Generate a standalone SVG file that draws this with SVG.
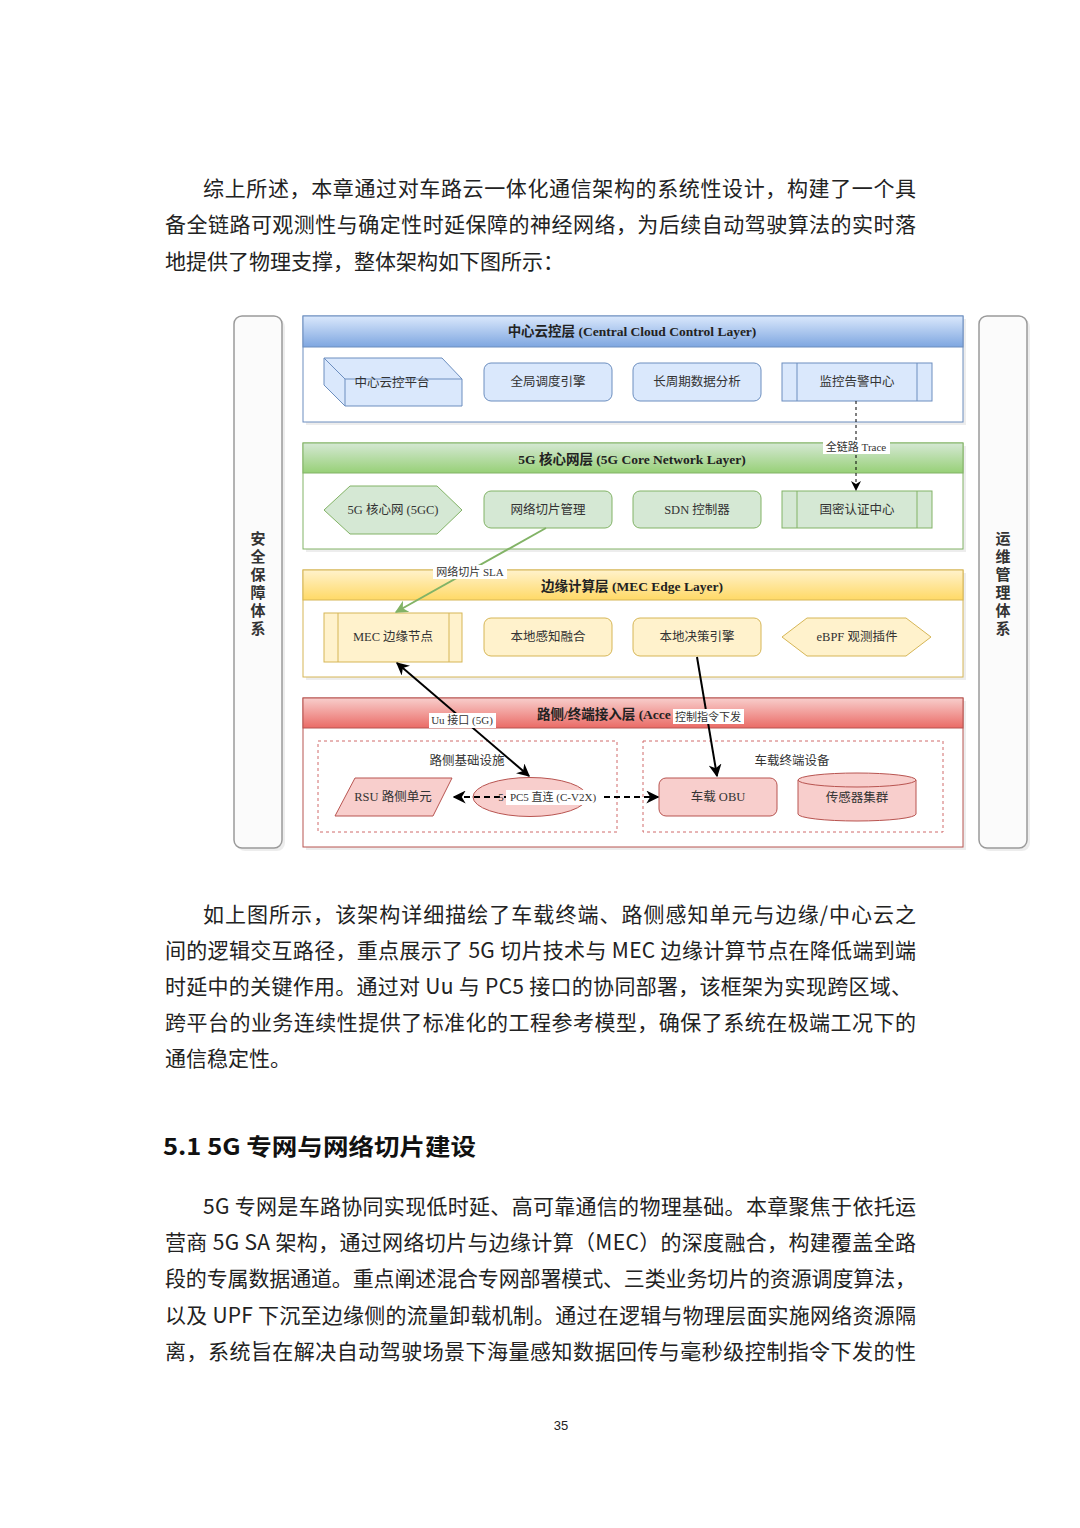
<svg xmlns="http://www.w3.org/2000/svg" width="1080" height="1528" viewBox="0 0 1080 1528">
<style>
.body{font-family:"Noto Sans CJK SC","Liberation Serif",sans-serif;font-size:21px;fill:#222;}
.h1{font-family:"Noto Sans CJK SC",sans-serif;font-size:23px;font-weight:bold;fill:#111;}
.pn{font-family:"Liberation Sans",sans-serif;font-size:13px;fill:#222;text-anchor:middle;}
.nt{font-family:"Liberation Serif","Noto Sans CJK SC",serif;font-size:12.5px;fill:#333;text-anchor:middle;dominant-baseline:central;}
.lt{font-family:"Liberation Serif","Noto Sans CJK SC",serif;font-size:13.5px;font-weight:bold;fill:#222;text-anchor:middle;dominant-baseline:central;}
.el{font-family:"Liberation Serif","Noto Sans CJK SC",serif;font-size:11px;fill:#333;text-anchor:middle;dominant-baseline:central;}
.st{font-family:"Noto Sans CJK SC",sans-serif;font-size:15px;font-weight:bold;fill:#333;text-anchor:middle;dominant-baseline:central;}
.side{fill:#fbfbfb;stroke:#9a9a9a;stroke-width:1.5;}
.shadow{fill:#000;opacity:0.07;}
.bN{fill:#dae8fc;stroke:#6c8ebf;stroke-width:1;}
.gN{fill:#d5e8d4;stroke:#82b366;stroke-width:1;}
.yN{fill:#fff2cc;stroke:#d6b656;stroke-width:1;}
.rN{fill:#f8cecc;stroke:#b85450;stroke-width:1;}
.grp{fill:none;stroke:#d06a6a;stroke-width:1;stroke-dasharray:3 3;}
.lbg{fill:#fff;}
</style>
<defs>
<linearGradient id="gB" x1="0" y1="0" x2="0" y2="1"><stop offset="0" stop-color="#dae8fc"/><stop offset="1" stop-color="#7ea6e0"/></linearGradient>
<linearGradient id="gG" x1="0" y1="0" x2="0" y2="1"><stop offset="0" stop-color="#d5e8d4"/><stop offset="1" stop-color="#97d077"/></linearGradient>
<linearGradient id="gY" x1="0" y1="0" x2="0" y2="1"><stop offset="0" stop-color="#fff2cc"/><stop offset="1" stop-color="#ffd966"/></linearGradient>
<linearGradient id="gR" x1="0" y1="0" x2="0" y2="1"><stop offset="0" stop-color="#f8cecc"/><stop offset="1" stop-color="#ea6b66"/></linearGradient>
<marker id="ak" viewBox="0 0 10 10" refX="9" refY="5" markerUnits="userSpaceOnUse" markerWidth="13" markerHeight="13" orient="auto-start-reverse"><path d="M0,0 L10,5 L0,10 L3,5 z" fill="#000"/></marker>
<marker id="ag" viewBox="0 0 10 10" refX="9" refY="5" markerUnits="userSpaceOnUse" markerWidth="13" markerHeight="13" orient="auto-start-reverse"><path d="M0,0 L10,5 L0,10 L3,5 z" fill="#82b366"/></marker>
<marker id="as" viewBox="0 0 10 10" refX="9" refY="5" markerUnits="userSpaceOnUse" markerWidth="10" markerHeight="10" orient="auto-start-reverse"><path d="M0,0 L10,5 L0,10 L3,5 z" fill="#000"/></marker>
</defs>
<rect width="1080" height="1528" fill="#fff"/>

<!-- Paragraph 1 -->
<g id="para1">
<text class="body" x="203" y="196" textLength="713" lengthAdjust="spacing">综上所述，本章通过对车路云一体化通信架构的系统性设计，构建了一个具</text>
<text class="body" x="165" y="232" textLength="751" lengthAdjust="spacing">备全链路可观测性与确定性时延保障的神经网络，为后续自动驾驶算法的实时落</text>
<text class="body" x="165" y="269">地提供了物理支撑，整体架构如下图所示：</text>
</g>

<!-- Side bars -->
<g id="side-security">
<rect class="shadow" x="237" y="319" width="48" height="532" rx="8"/>
<rect class="side" x="234" y="316" width="48" height="532" rx="8"/>
<text class="st" x="258" y="537">安</text>
<text class="st" x="258" y="555">全</text>
<text class="st" x="258" y="573">保</text>
<text class="st" x="258" y="591">障</text>
<text class="st" x="258" y="609">体</text>
<text class="st" x="258" y="627">系</text>
</g>
<g id="side-ops">
<rect class="shadow" x="982" y="319" width="48" height="532" rx="8"/>
<rect class="side" x="979" y="316" width="48" height="532" rx="8"/>
<text class="st" x="1003" y="537">运</text>
<text class="st" x="1003" y="555">维</text>
<text class="st" x="1003" y="573">管</text>
<text class="st" x="1003" y="591">理</text>
<text class="st" x="1003" y="609">体</text>
<text class="st" x="1003" y="627">系</text>
</g>

<!-- Layer 1: Cloud -->
<g id="layer-cloud">
<rect class="shadow" x="306" y="319" width="660" height="106"/>
<rect x="303" y="316" width="660" height="106" fill="#fff" stroke="#6c8ebf" stroke-width="1"/>
<rect x="303" y="316" width="660" height="31" fill="url(#gB)" stroke="#6c8ebf" stroke-width="1"/>
<text class="lt" x="632" y="331">中心云控层 (Central Cloud Control Layer)</text>
</g>
<g id="node-cloud-platform">
<polygon class="bN" points="324,358 442,358 462,379 462,406 345,406 324,385"/>
<path d="M324,358 L345,379 L462,379 M345,379 L345,406" fill="none" stroke="#6c8ebf" stroke-width="1"/>
<text class="nt" x="392" y="383">中心云控平台</text>
</g>
<g id="node-scheduler">
<rect class="bN" x="484" y="363" width="128" height="38" rx="7"/>
<text class="nt" x="548" y="382">全局调度引擎</text>
</g>
<g id="node-analytics">
<rect class="bN" x="633" y="363" width="128" height="38" rx="7"/>
<text class="nt" x="697" y="382">长周期数据分析</text>
</g>
<g id="node-monitor">
<rect class="bN" x="782" y="363" width="150" height="38"/>
<path d="M797,363 V401 M917,363 V401" stroke="#6c8ebf" stroke-width="1"/>
<text class="nt" x="857" y="382">监控告警中心</text>
</g>

<!-- Layer 2: 5G Core -->
<g id="layer-core">
<rect class="shadow" x="306" y="446" width="660" height="106"/>
<rect x="303" y="443" width="660" height="106" fill="#fff" stroke="#82b366" stroke-width="1"/>
<rect x="303" y="443" width="660" height="30" fill="url(#gG)" stroke="#82b366" stroke-width="1"/>
<text class="lt" x="632" y="459">5G 核心网层 (5G Core Network Layer)</text>
</g>
<g id="node-5gc">
<polygon class="gN" points="324,510 350,486 437,486 462,510 437,534 350,534"/>
<text class="nt" x="393" y="510">5G 核心网 (5GC)</text>
</g>
<g id="node-slice">
<rect class="gN" x="484" y="491" width="128" height="37" rx="7"/>
<text class="nt" x="548" y="510">网络切片管理</text>
</g>
<g id="node-sdn">
<rect class="gN" x="633" y="491" width="128" height="37" rx="7"/>
<text class="nt" x="697" y="510">SDN 控制器</text>
</g>
<g id="node-auth">
<rect class="gN" x="782" y="491" width="150" height="37"/>
<path d="M797,491 V528 M917,491 V528" stroke="#82b366" stroke-width="1"/>
<text class="nt" x="857" y="510">国密认证中心</text>
</g>

<!-- Layer 3: MEC -->
<g id="layer-mec">
<rect class="shadow" x="306" y="573" width="660" height="107"/>
<rect x="303" y="570" width="660" height="107" fill="#fff" stroke="#d6b656" stroke-width="1"/>
<rect x="303" y="570" width="660" height="30" fill="url(#gY)" stroke="#d6b656" stroke-width="1"/>
<text class="lt" x="632" y="586">边缘计算层 (MEC Edge Layer)</text>
</g>
<g id="node-mec">
<rect class="yN" x="324" y="613" width="138" height="49"/>
<path d="M338,613 V662 M449,613 V662" stroke="#d6b656" stroke-width="1"/>
<text class="nt" x="393" y="637">MEC 边缘节点</text>
</g>
<g id="node-fusion">
<rect class="yN" x="484" y="618" width="128" height="38" rx="7"/>
<text class="nt" x="548" y="637">本地感知融合</text>
</g>
<g id="node-decision">
<rect class="yN" x="633" y="618" width="128" height="38" rx="7"/>
<text class="nt" x="697" y="637">本地决策引擎</text>
</g>
<g id="node-ebpf">
<polygon class="yN" points="782,637 807,618 906,618 931,637 906,656 807,656"/>
<text class="nt" x="857" y="637">eBPF 观测插件</text>
</g>

<!-- Layer 4: Access -->
<g id="layer-access">
<rect class="shadow" x="306" y="701" width="660" height="149"/>
<rect x="303" y="698" width="660" height="149" fill="#fff" stroke="#b85450" stroke-width="1"/>
<rect x="303" y="698" width="660" height="30" fill="url(#gR)" stroke="#b85450" stroke-width="1"/>
<text class="lt" x="537" y="714" style="text-anchor:start">路侧/终端接入层 (Acce</text>
</g>
<g id="group-roadside">
<rect class="grp" x="318" y="741" width="299" height="91"/>
<text class="nt" x="467" y="761">路侧基础设施</text>
</g>
<g id="group-vehicle">
<rect class="grp" x="643" y="741" width="300" height="91"/>
<text class="nt" x="792" y="761">车载终端设备</text>
</g>
<g id="node-rsu">
<polygon class="rN" points="335,816 355,778 452,778 433,816"/>
<text class="nt" x="393" y="797">RSU 路侧单元</text>
</g>
<g id="node-pc5">
<ellipse class="rN" cx="530" cy="797" rx="57" ry="19.5"/>
</g>
<g id="node-obu">
<rect class="rN" x="659" y="778" width="118" height="38" rx="7"/>
<text class="nt" x="718" y="797">车载 OBU</text>
</g>
<g id="node-sensors">
<path class="rN" d="M798,780 A59,7 0 0 1 916,780 V814 A59,7 0 0 1 798,814 Z"/>
<path d="M798,780 A59,7 0 0 0 916,780" fill="none" stroke="#b85450" stroke-width="1"/>
<text class="nt" x="857" y="798">传感器集群</text>
</g>

<!-- Connectors -->
<g id="connectors">
<line x1="856" y1="401" x2="856" y2="490" stroke="#000" stroke-width="1" stroke-dasharray="3 3" marker-end="url(#as)"/>
<rect class="lbg" x="823" y="440" width="67" height="14"/>
<text class="el" x="856" y="447">全链路 Trace</text>

<line x1="546" y1="528" x2="396" y2="612" stroke="#82b366" stroke-width="2" marker-end="url(#ag)"/>
<rect class="lbg" x="433" y="565" width="74" height="14"/>
<text class="el" x="470" y="572">网络切片 SLA</text>

<line x1="397" y1="663" x2="529" y2="776" stroke="#000" stroke-width="2" marker-start="url(#ak)" marker-end="url(#ak)"/>
<rect class="lbg" x="429" y="713" width="67" height="15"/>
<text class="el" x="462" y="720">Uu 接口 (5G)</text>

<line x1="697" y1="657" x2="717" y2="776" stroke="#000" stroke-width="2" marker-end="url(#ak)"/>
<rect class="lbg" x="673" y="709" width="71" height="15"/>
<text class="el" x="708" y="717">控制指令下发</text>

<line x1="454" y1="797" x2="658" y2="797" stroke="#000" stroke-width="2" stroke-dasharray="6 4" marker-start="url(#ak)" marker-end="url(#ak)"/>
<text class="el" x="501" y="797">5</text>
<rect class="lbg" x="506" y="790" width="95" height="15"/>
<text class="el" x="553" y="797">PC5 直连 (C-V2X)</text>
</g>

<!-- Paragraph 2 -->
<g id="para2">
<text class="body" x="203" y="922" textLength="713" lengthAdjust="spacing">如上图所示，该架构详细描绘了车载终端、路侧感知单元与边缘/中心云之</text>
<text class="body" x="165" y="958" textLength="751" lengthAdjust="spacing">间的逻辑交互路径，重点展示了 5G 切片技术与 MEC 边缘计算节点在降低端到端</text>
<text class="body" x="165" y="994" textLength="747" lengthAdjust="spacing">时延中的关键作用。通过对 Uu 与 PC5 接口的协同部署，该框架为实现跨区域、</text>
<text class="body" x="165" y="1030" textLength="751" lengthAdjust="spacing">跨平台的业务连续性提供了标准化的工程参考模型，确保了系统在极端工况下的</text>
<text class="body" x="165" y="1066">通信稳定性。</text>
</g>

<g id="heading">
<text class="h1" x="163" y="1155" textLength="313" lengthAdjust="spacingAndGlyphs">5.1 5G 专网与网络切片建设</text>
</g>

<!-- Paragraph 3 -->
<g id="para3">
<text class="body" x="203" y="1214" textLength="713" lengthAdjust="spacing">5G 专网是车路协同实现低时延、高可靠通信的物理基础。本章聚焦于依托运</text>
<text class="body" x="165" y="1250" textLength="751" lengthAdjust="spacing">营商 5G SA 架构，通过网络切片与边缘计算（MEC）的深度融合，构建覆盖全路</text>
<text class="body" x="165" y="1286" textLength="751" lengthAdjust="spacing">段的专属数据通道。重点阐述混合专网部署模式、三类业务切片的资源调度算法，</text>
<text class="body" x="165" y="1323" textLength="751" lengthAdjust="spacing">以及 UPF 下沉至边缘侧的流量卸载机制。通过在逻辑与物理层面实施网络资源隔</text>
<text class="body" x="165" y="1359" textLength="751" lengthAdjust="spacing">离，系统旨在解决自动驾驶场景下海量感知数据回传与毫秒级控制指令下发的性</text>
</g>

<text class="pn" x="561" y="1430">35</text>
</svg>
